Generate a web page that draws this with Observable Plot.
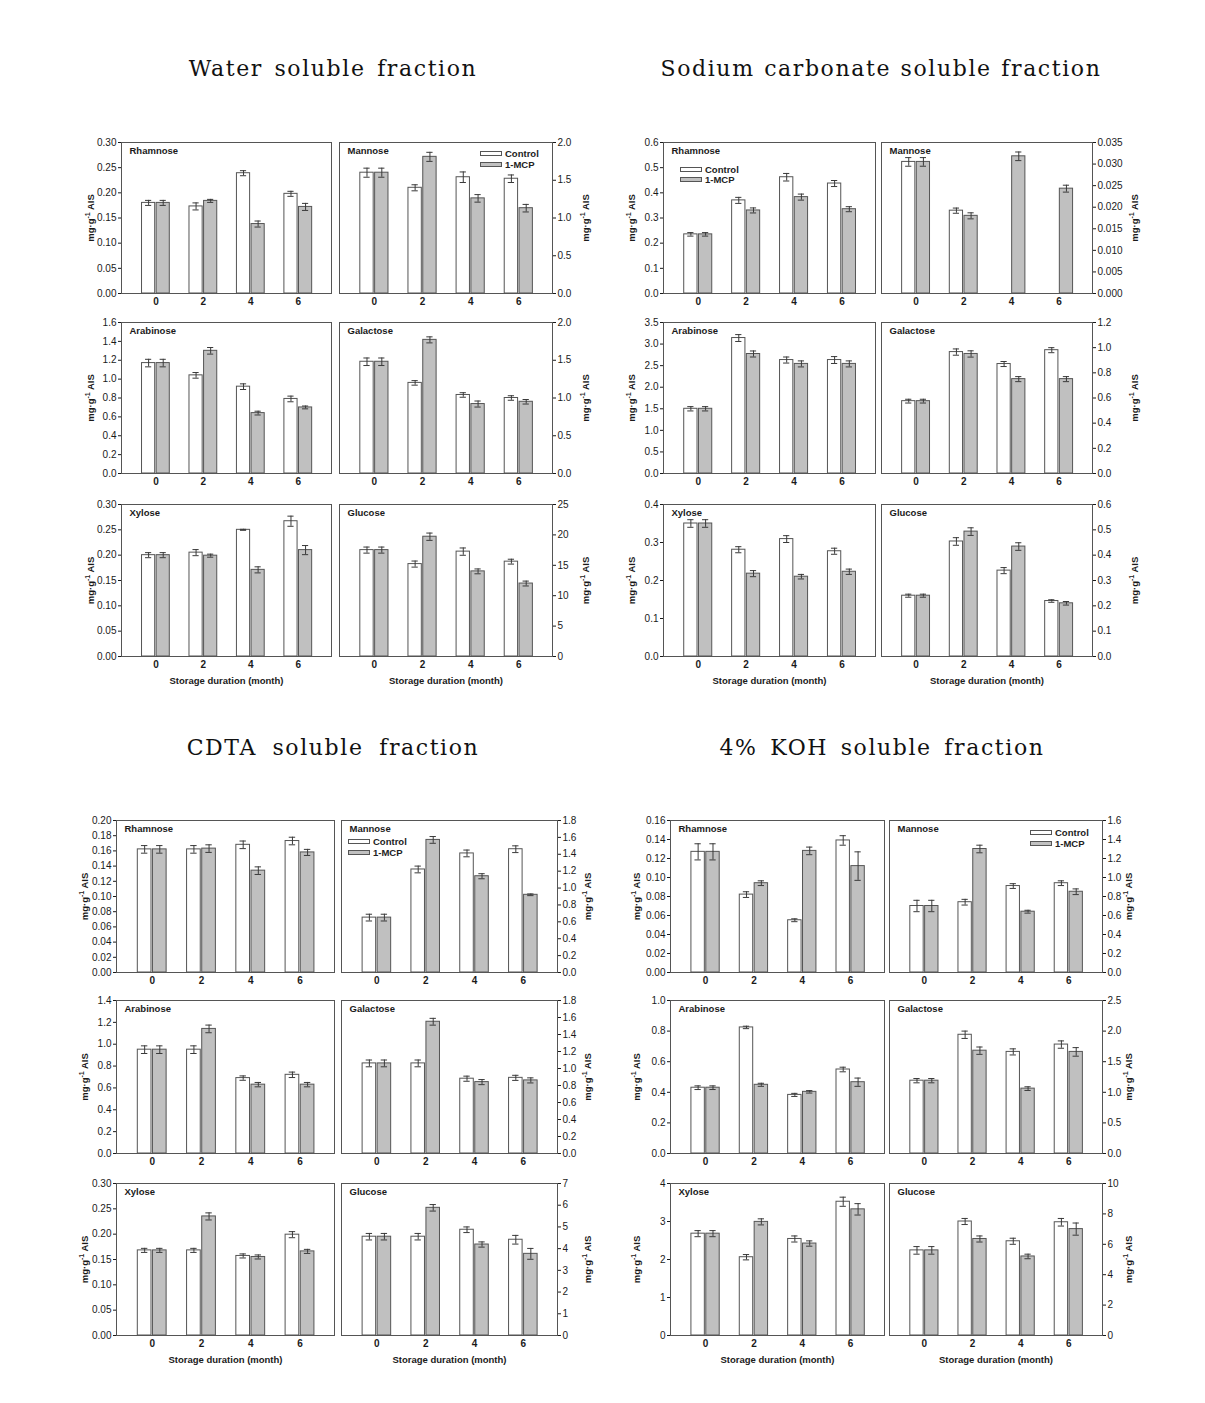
<!DOCTYPE html>
<html><head><meta charset="utf-8">
<script src="https://cdn.jsdelivr.net/npm/d3@7"></script>
<script src="https://cdn.jsdelivr.net/npm/@observablehq/plot@0.6"></script>
<style>
body{margin:0;background:#fff;}
#root{position:relative;width:1205px;height:1403px;background:#fff;overflow:hidden;font-family:"Liberation Sans",Arial,sans-serif;}
.title{position:absolute;font-family:"DejaVu Serif",serif;font-size:22px;letter-spacing:1.6px;white-space:nowrap;transform:translate(-50%,-50%);color:#111;}
.panel{position:absolute;}
.panel svg{overflow:visible;}
g[aria-label="x-axis tick label"] text{font-weight:bold;}
.sw{position:absolute;width:20px;height:3px;border:1px solid #555;}
.lt{position:absolute;font-weight:bold;font-size:9.5px;color:#222;white-space:nowrap;transform:translateY(-50%);}
</style></head><body><div id="root"></div><script>
// ---- categories & labels ----
const months = [0, 2, 4, 6];
const sugars = ["Rhamnose", "Mannose", "Arabinose", "Galactose", "Xylose", "Glucose"];
const treatments = ["Control", "1-MCP"];
const fractionTitles = ["Water soluble fraction", "Sodium carbonate soluble fraction", "CDTA soluble fraction", "4% KOH soluble fraction"];
const xAxisTitle = "Storage duration (month)";
const yAxisTitle = "mg·g-1 AIS";

// ---- Water soluble fraction (rows: sugars, cols: months) ----
const waterControl = [
  [0.180, 0.173, 0.239, 0.198],
  [1.60, 1.40, 1.54, 1.52],
  [1.17, 1.04, 0.92, 0.79],
  [1.48, 1.20, 1.04, 1.00],
  [0.200, 0.205, 0.250, 0.267],
  [17.5, 15.2, 17.25, 15.6]
];
const waterControlErr = [
  [0.005, 0.007, 0.005, 0.005],
  [0.06, 0.04, 0.07, 0.05],
  [0.04, 0.03, 0.03, 0.03],
  [0.05, 0.03, 0.03, 0.03],
  [0.005, 0.006, 0.001, 0.010],
  [0.5, 0.5, 0.6, 0.4]
];
const water1MCP = [
  [0.180, 0.184, 0.138, 0.172],
  [1.60, 1.81, 1.26, 1.13],
  [1.17, 1.30, 0.64, 0.70],
  [1.48, 1.77, 0.92, 0.95],
  [0.200, 0.199, 0.171, 0.210],
  [17.5, 19.7, 14.0, 12.0]
];
const water1MCPErr = [
  [0.005, 0.003, 0.006, 0.007],
  [0.06, 0.06, 0.05, 0.05],
  [0.04, 0.035, 0.02, 0.015],
  [0.05, 0.04, 0.04, 0.03],
  [0.005, 0.003, 0.006, 0.009],
  [0.5, 0.6, 0.4, 0.4]
];
const waterYMax = [0.30, 2.0, 1.6, 2.0, 0.30, 25];
const waterYStep = [0.05, 0.5, 0.2, 0.5, 0.05, 5];

// ---- Sodium carbonate soluble fraction ----
const sodiumControl = [
  [0.235, 0.370, 0.462, 0.437],
  [0.0305, 0.0192, 0, 0],
  [1.50, 3.14, 2.63, 2.63],
  [0.575, 0.965, 0.87, 0.98],
  [0.350, 0.281, 0.309, 0.277],
  [0.240, 0.454, 0.339, 0.219]
];
const sodiumControlErr = [
  [0.007, 0.012, 0.015, 0.012],
  [0.001, 0.0006, 0, 0],
  [0.05, 0.08, 0.07, 0.08],
  [0.015, 0.025, 0.02, 0.02],
  [0.010, 0.008, 0.009, 0.008],
  [0.006, 0.015, 0.012, 0.005]
];
const sodium1MCP = [
  [0.235, 0.330, 0.383, 0.335],
  [0.0305, 0.0180, 0.0318, 0.0243],
  [1.50, 2.77, 2.54, 2.54],
  [0.575, 0.95, 0.75, 0.75],
  [0.350, 0.218, 0.210, 0.223],
  [0.240, 0.493, 0.434, 0.210]
];
const sodium1MCPErr = [
  [0.007, 0.010, 0.012, 0.010],
  [0.001, 0.0007, 0.001, 0.0008],
  [0.05, 0.07, 0.07, 0.07],
  [0.015, 0.025, 0.02, 0.02],
  [0.010, 0.008, 0.006, 0.007],
  [0.006, 0.015, 0.015, 0.007]
];
const sodiumYMax = [0.6, 0.035, 3.5, 1.2, 0.4, 0.6];
const sodiumYStep = [0.1, 0.005, 0.5, 0.2, 0.1, 0.1];

// ---- CDTA soluble fraction ----
const cdtaControl = [
  [0.162, 0.162, 0.168, 0.173],
  [0.65, 1.22, 1.41, 1.46],
  [0.95, 0.95, 0.69, 0.72],
  [1.06, 1.06, 0.88, 0.89],
  [0.168, 0.168, 0.157, 0.199],
  [4.55, 4.55, 4.87, 4.41]
];
const cdtaControlErr = [
  [0.005, 0.005, 0.005, 0.005],
  [0.04, 0.04, 0.04, 0.04],
  [0.035, 0.035, 0.02, 0.025],
  [0.04, 0.04, 0.03, 0.03],
  [0.004, 0.004, 0.004, 0.006],
  [0.15, 0.15, 0.13, 0.2]
];
const cdta1MCP = [
  [0.162, 0.163, 0.134, 0.158],
  [0.65, 1.57, 1.14, 0.92],
  [0.95, 1.14, 0.63, 0.63],
  [1.06, 1.55, 0.84, 0.86],
  [0.168, 0.235, 0.155, 0.166],
  [4.55, 5.88, 4.19, 3.76]
];
const cdta1MCPErr = [
  [0.005, 0.005, 0.005, 0.004],
  [0.04, 0.04, 0.03, 0.01],
  [0.035, 0.035, 0.02, 0.02],
  [0.04, 0.04, 0.03, 0.03],
  [0.004, 0.007, 0.004, 0.004],
  [0.15, 0.15, 0.12, 0.25]
];
const cdtaYMax = [0.20, 1.8, 1.4, 1.8, 0.30, 7];
const cdtaYStep = [0.02, 0.2, 0.2, 0.2, 0.05, 1];

// ---- 4% KOH soluble fraction ----
const kohControl = [
  [0.127, 0.082, 0.055, 0.139],
  [0.70, 0.74, 0.91, 0.94],
  [0.43, 0.824, 0.383, 0.549],
  [1.19, 1.94, 1.66, 1.78],
  [2.68, 2.06, 2.54, 3.52],
  [5.6, 7.5, 6.2, 7.45]
];
const kohControlErr = [
  [0.0085, 0.003, 0.0015, 0.005],
  [0.06, 0.03, 0.025, 0.025],
  [0.012, 0.008, 0.01, 0.015],
  [0.035, 0.06, 0.05, 0.06],
  [0.08, 0.07, 0.08, 0.12],
  [0.25, 0.2, 0.2, 0.25]
];
const koh1MCP = [
  [0.127, 0.094, 0.128, 0.112],
  [0.70, 1.30, 0.64, 0.85],
  [0.43, 0.449, 0.403, 0.466],
  [1.19, 1.68, 1.06, 1.66],
  [2.68, 2.99, 2.42, 3.32],
  [5.6, 6.35, 5.2, 7.0]
];
const koh1MCPErr = [
  [0.0085, 0.0025, 0.004, 0.015],
  [0.06, 0.04, 0.015, 0.03],
  [0.012, 0.01, 0.008, 0.027],
  [0.035, 0.06, 0.03, 0.07],
  [0.08, 0.08, 0.07, 0.15],
  [0.25, 0.2, 0.15, 0.4]
];
const kohYMax = [0.16, 1.6, 1.0, 2.5, 4, 10];
const kohYStep = [0.02, 0.2, 0.2, 0.5, 1, 2];

const fractionData = [
  [waterControl, waterControlErr, water1MCP, water1MCPErr, waterYMax, waterYStep],
  [sodiumControl, sodiumControlErr, sodium1MCP, sodium1MCPErr, sodiumYMax, sodiumYStep],
  [cdtaControl, cdtaControlErr, cdta1MCP, cdta1MCPErr, cdtaYMax, cdtaYStep],
  [kohControl, kohControlErr, koh1MCP, koh1MCPErr, kohYMax, kohYStep]
];

// ---- layout (page pixels) ----
const layout = [
  {left:[121,331], right:[339,552], rowTop:[142,322,504], rowBottom:[293,473,656], yLabL:31, yLabR:33, title:[333,68], wordSp:3, legX:480, legY:[153,164]},
  {left:[663,875], right:[881,1092], rowTop:[142,322,504], rowBottom:[293,473,656], yLabL:32, yLabR:42, title:[881,68], wordSp:1, legX:680, legY:[169,179]},
  {left:[116,334], right:[341,557], rowTop:[820,1000,1183], rowBottom:[972,1153,1335], yLabL:32, yLabR:30, title:[333,747], wordSp:7, legX:348, legY:[841,852]},
  {left:[670,884], right:[889,1102], rowTop:[820,1000,1183], rowBottom:[972,1153,1335], yLabL:34, yLabR:26, title:[882,747], wordSp:4, legX:1030, legY:[832,843]}
];

const root = document.getElementById("root");
const decimals = step => { const s = String(step); return s.includes(".") ? s.split(".")[1].length : 0; };

function makePanel(g, s) {
  const L = layout[g];
  const isLeft = s % 2 === 0, row = Math.floor(s / 2);
  const [fl, fr] = isLeft ? L.left : L.right;
  const ft = L.rowTop[row], fb = L.rowBottom[row];
  const ml = 55, mr = 55, mt = 6, mb = 40;
  const [ctrl, ctrlErr, mcp, mcpErr, yMaxArr, yStepArr] = fractionData[g];
  const ymax = yMaxArr[s], step = yStepArr[s], dp = decimals(step);
  const ticks = d3.range(0, Math.round(ymax / step) + 1).map(i => +(i * step).toFixed(6));
  const rows = [];
  months.forEach((m, i) => {
    rows.push({month: m, tr: treatments[0], v: ctrl[s][i], e: ctrlErr[s][i]});
    rows.push({month: m, tr: treatments[1], v: mcp[s][i], e: mcpErr[s][i]});
  });
  const lo = d => d.tr === treatments[0] ? d.month - 0.585 : d.month + 0.03;
  const hi = d => d.tr === treatments[0] ? d.month - 0.03 : d.month + 0.585;
  const mid = d => (lo(d) + hi(d)) / 2;
  const vis = rows.filter(d => d.v > 0);
  const err = vis.filter(d => d.e > 0);
  const marks = [
    Plot.rect(vis.filter(d => d.tr === treatments[0]), {x1: lo, x2: hi, y1: d => 0, y2: "v", fill: "#ffffff", stroke: "#555", strokeWidth: 1}),
    Plot.rect(vis.filter(d => d.tr === treatments[1]), {x1: lo, x2: hi, y1: d => 0, y2: "v", fill: "#c0c0c0", stroke: "#555", strokeWidth: 1}),
    Plot.ruleX(err, {x: mid, y1: d => d.v - d.e, y2: d => d.v + d.e, stroke: "#3a3a3a"}),
    Plot.ruleY(err, {y: d => d.v + d.e, x1: d => mid(d) - 0.13, x2: d => mid(d) + 0.13, stroke: "#3a3a3a"}),
    Plot.ruleY(err, {y: d => d.v - d.e, x1: d => mid(d) - 0.13, x2: d => mid(d) + 0.13, stroke: "#3a3a3a"}),
    Plot.frame({stroke: "#555"}),
    Plot.axisY({anchor: isLeft ? "left" : "right", ticks, tickFormat: d => d.toFixed(dp), tickSize: 3, tickPadding: 2, label: null}),
    Plot.axisX({ticks: months, tickSize: 0, tickPadding: 4, tickFormat: d => String(d), label: null}),
    Plot.text([sugars[s]], {text: d => d, frameAnchor: "top-left", dx: 8, dy: 4.5, fontWeight: "bold", fontSize: 9.5}),
    Plot.text([yAxisTitle], {text: d => d, frameAnchor: isLeft ? "left" : "right", textAnchor: "middle", dx: isLeft ? -L.yLabL : L.yLabR, rotate: -90, fontWeight: "bold", fontSize: 9.5})
  ];
  if (row === 2) marks.push(Plot.text([xAxisTitle], {text: d => d, frameAnchor: "bottom", textAnchor: "middle", dy: 27, fontWeight: "bold", fontSize: 9.5}));
  const svg = Plot.plot({
    width: fr - fl + ml + mr, height: fb - ft + mt + mb,
    marginLeft: ml, marginRight: mr, marginTop: mt, marginBottom: mb,
    x: {domain: [-1.45, 7.4]}, y: {domain: [0, ymax]},
    style: {fontFamily: "'Liberation Sans', Arial, sans-serif", fontSize: "10px", color: "#1a1a1a", background: "transparent", overflow: "visible"},
    marks
  });
  // superscript in the y label
  svg.querySelectorAll("text").forEach(t => {
    if (t.textContent === yAxisTitle) {
      t.textContent = "";
      const ns = "http://www.w3.org/2000/svg";
      const a = document.createElementNS(ns, "tspan"); a.textContent = "mg·g";
      const b = document.createElementNS(ns, "tspan"); b.textContent = "-1"; b.setAttribute("dy", "-4"); b.setAttribute("font-size", "7px");
      const c = document.createElementNS(ns, "tspan"); c.textContent = " AIS"; c.setAttribute("dy", "4");
      t.append(a, b, c);
    }
  });
  const div = document.createElement("div");
  div.className = "panel";
  div.style.left = (fl - ml) + "px";
  div.style.top = (ft - mt) + "px";
  div.appendChild(svg);
  root.appendChild(div);
}

fractionTitles.forEach((t, g) => {
  const L = layout[g];
  const el = document.createElement("div");
  el.className = "title";
  el.textContent = t;
  el.style.left = L.title[0] + "px";
  el.style.top = L.title[1] + "px";
  el.style.wordSpacing = L.wordSp + "px";
  root.appendChild(el);
  for (let s = 0; s < sugars.length; s++) makePanel(g, s);
  // legend
  treatments.forEach((tr, k) => {
    const sw = document.createElement("div");
    sw.className = "sw";
    sw.style.background = k === 0 ? "#ffffff" : "#c0c0c0";
    sw.style.left = L.legX + "px";
    sw.style.top = (L.legY[k] - 2.5) + "px";
    root.appendChild(sw);
    const lt = document.createElement("div");
    lt.className = "lt";
    lt.textContent = tr;
    lt.style.left = (L.legX + 25) + "px";
    lt.style.top = L.legY[k] + "px";
    root.appendChild(lt);
  });
});
</script></body></html>
